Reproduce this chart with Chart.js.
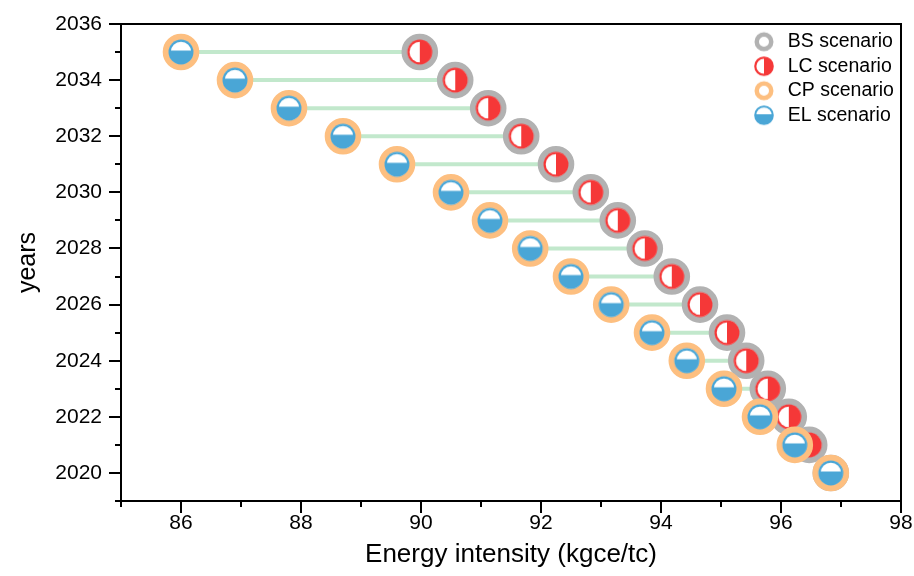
<!DOCTYPE html>
<html><head><meta charset="utf-8">
<script src="https://cdn.jsdelivr.net/npm/chart.js@4.4.0/dist/chart.umd.min.js"></script>
<style>html,body{margin:0;padding:0;background:#fff}</style>
</head><body>
<canvas id="c" width="914" height="576"></canvas>
<script>
// ---- data ----
const years = [2020,2021,2022,2023,2024,2025,2026,2027,2028,2029,2030,2031,2032,2033,2034,2035];
const bsValues = [96.83,96.47,96.13,95.78,95.42,95.10,94.65,94.18,93.73,93.28,92.83,92.25,91.67,91.12,90.57,89.98];
const lcValues = [96.83,96.47,96.13,95.78,95.42,95.10,94.65,94.18,93.73,93.28,92.83,92.25,91.67,91.12,90.57,89.98];
const cpValues = [96.83,96.23,95.65,95.05,94.43,93.85,93.17,92.50,91.82,91.15,90.50,89.60,88.70,87.80,86.90,86.00];
const elValues = [96.83,96.23,95.65,95.05,94.43,93.85,93.17,92.50,91.82,91.15,90.50,89.60,88.70,87.80,86.90,86.00];
const seriesNames = ['BS scenario','LC scenario','CP scenario','EL scenario'];
const xTickLabels = [86,88,90,92,94,96,98];
const xMinorTicks = [85,87,89,91,93,95,97];
const yTickLabels = [2020,2022,2024,2026,2028,2030,2032,2034,2036];
const yMinorTicks = [2019,2021,2023,2025,2027,2029,2031,2033,2035];

const GRAY = '#b2b2b2', RED = '#f53838', ORANGE = '#fdbf80', BLUE = '#4aa6d6', GREEN = '#c2e8cc';

function makeIcon(size, draw){ const c=document.createElement('canvas'); c.width=c.height=size; draw(c.getContext('2d'), size/2); return c; }
function ring(color, R, w){ return (ctx,c)=>{ ctx.beginPath(); ctx.arc(c,c,R-w/2,0,Math.PI*2); ctx.fillStyle='#fff'; ctx.fill(); ctx.lineWidth=w; ctx.strokeStyle=color; ctx.stroke(); }; }
function halfLeft(color, R, Ri){ return (ctx,c)=>{ ctx.beginPath(); ctx.arc(c,c,R,0,Math.PI*2); ctx.fillStyle=color; ctx.fill();
  ctx.beginPath(); ctx.arc(c,c,Ri,Math.PI/2,Math.PI*1.5); ctx.closePath(); ctx.fillStyle='#fff'; ctx.fill(); }; }
function capTop(color, R, Ri, cut){ return (ctx,c)=>{ ctx.beginPath(); ctx.arc(c,c,R,0,Math.PI*2); ctx.fillStyle=color; ctx.fill();
  ctx.save(); ctx.beginPath(); ctx.arc(c,c,Ri,0,Math.PI*2); ctx.clip(); ctx.fillStyle='#fff'; ctx.fillRect(0,0,c*2,c-cut); ctx.restore(); }; }

const lcIcon = makeIcon(28, halfLeft(RED, 12.5, 10.3));
const elIcon = makeIcon(28, capTop(BLUE, 12.5, 10.3, 1.5));
const legendIcons = [
  makeIcon(22, ring(GRAY, 9.5, 4.5)),
  makeIcon(22, halfLeft(RED, 9.8, 7.6)),
  makeIcon(22, ring(ORANGE, 9.5, 4.5)),
  makeIcon(22, capTop(BLUE, 9.8, 7.8, 1))
];

const pts = vals => years.map((y,i)=>({x:vals[i], y:y}));
const linkData = [];
years.forEach((y,i)=>{ linkData.push({x:cpValues[i], y:y}); linkData.push({x:bsValues[i], y:y}); });

Chart.defaults.font.family = "'Liberation Sans', Arial, sans-serif";
Chart.defaults.color = '#000';

const framePlugin = {
  id:'frame',
  afterLayout(chart){
    const lg = chart.legend; if(!lg) return;
    const w = lg.width, h = lg.height;
    lg.left = 745; lg.right = lg.left + w; lg.top = 27; lg.bottom = lg.top + h;
  },
  afterDraw(chart){
    const {ctx, chartArea:{left,right,top,bottom}, scales:{x,y}} = chart;
    ctx.save(); ctx.strokeStyle='#000'; ctx.lineWidth=2;
    ctx.beginPath(); ctx.moveTo(left-1, top); ctx.lineTo(right, top); ctx.lineTo(right, bottom); ctx.stroke();
    ctx.beginPath();
    xMinorTicks.forEach(v=>{ const p=Math.round(x.getPixelForValue(v)); ctx.moveTo(p, bottom); ctx.lineTo(p, bottom+6); });
    yMinorTicks.forEach(v=>{ const p=Math.round(y.getPixelForValue(v)); ctx.moveTo(left, p); ctx.lineTo(left-6, p); });
    ctx.stroke(); ctx.restore();
  }
};

new Chart(document.getElementById('c'), {
  type:'scatter',
  data:{ datasets:[
    {label:seriesNames[0], data:pts(bsValues), pointStyle:'circle', pointRadius:15.2, borderWidth:6.2, borderColor:GRAY, backgroundColor:'#fff', order:4},
    {label:seriesNames[1], data:pts(lcValues), pointStyle:lcIcon, pointRadius:13, borderColor:RED, backgroundColor:RED, order:3},
    {label:seriesNames[2], data:pts(cpValues), pointStyle:'circle', pointRadius:15.2, borderWidth:6.2, borderColor:ORANGE, backgroundColor:'#fff', order:2},
    {label:seriesNames[3], data:pts(elValues), pointStyle:elIcon, pointRadius:13, borderColor:BLUE, backgroundColor:BLUE, order:1},
    {label:'links', data:linkData, showLine:true, pointRadius:0, borderWidth:4, borderColor:GREEN,
     segment:{borderColor: ctx => ctx.p0DataIndex % 2 === 0 ? GREEN : 'rgba(0,0,0,0)'}, order:10}
  ]},
  options:{
    responsive:false, animation:false,
    layout:{autoPadding:false, padding:{left:0,right:13,top:24,bottom:0}},
    plugins:{
      tooltip:{enabled:false},
      legend:{
        position:'chartArea', align:'start',
        labels:{
          usePointStyle:true, pointStyleWidth:28, padding:5, color:'#000', font:{size:19.5},
          filter: item => item.datasetIndex < 4,
          sort: (a,b) => a.datasetIndex - b.datasetIndex,
          generateLabels(chart){
            const items = Chart.defaults.plugins.legend.labels.generateLabels(chart);
            items.forEach(it => { if (it.datasetIndex < 4) it.pointStyle = legendIcons[it.datasetIndex]; });
            return items;
          }
        }
      }
    },
    scales:{
      x:{
        type:'linear', min:85, max:98,
        afterBuildTicks: s => { s.ticks = xTickLabels.map(v=>({value:v})); },
        afterFit: s => { s.height = 75; s.paddingLeft = 0; s.paddingRight = 0; },
        ticks:{font:{size:21, lineHeight:1}, color:'#000', padding:0, maxRotation:0, autoSkip:false, callback: v => String(v)},
        grid:{display:true, drawOnChartArea:false, drawTicks:true, tickLength:12, color:'#000', lineWidth:2},
        border:{display:true, color:'#000', width:2},
        title:{display:true, text:'Energy intensity (kgce/tc)', font:{size:26}, color:'#000', padding:6}
      },
      y:{
        type:'linear', min:2019, max:2036,
        afterBuildTicks: s => { s.ticks = yTickLabels.map(v=>({value:v})); },
        afterFit: s => { s.width = 121; s.paddingTop = 0; s.paddingBottom = 0; },
        ticks:{font:{size:21}, color:'#000', padding:7, autoSkip:false, callback: v => String(v)},
        grid:{display:true, drawOnChartArea:false, drawTicks:true, tickLength:12, color:'#000', lineWidth:2},
        border:{display:true, color:'#000', width:2},
        title:{display:true, text:'years', font:{size:25}, color:'#000', padding:13}
      }
    }
  },
  plugins:[framePlugin]
});
</script>
</body></html>
